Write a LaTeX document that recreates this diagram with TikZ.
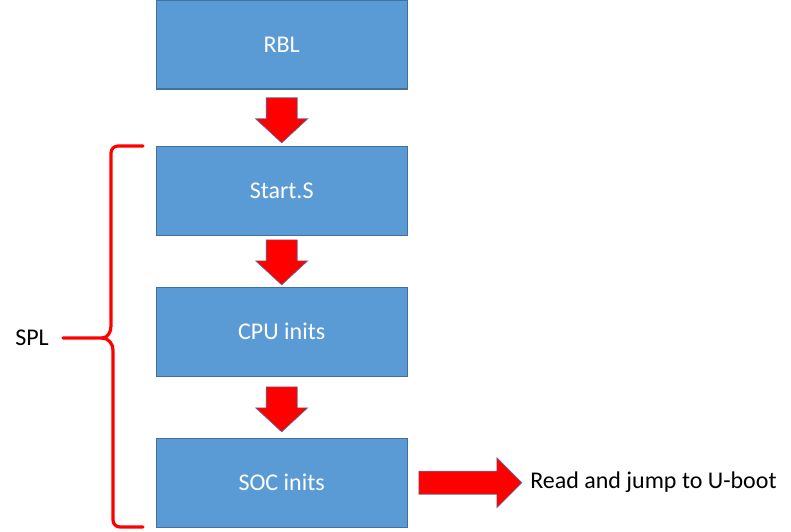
\documentclass[tikz,border=0pt]{standalone}
\usepackage{fontspec}
\setmainfont{Carlito}
\usetikzlibrary{calc}
\definecolor{boxfill}{HTML}{5B9BD5}
\definecolor{boxline}{HTML}{41719C}
\definecolor{arrline}{HTML}{5A6E96}
\tikzset{
  px/.style={x=0.75pt,y=-0.75pt},
  stagebox/.style={draw=boxline,line width=1pt,fill=boxfill,minimum width=251*0.75pt,minimum height=89*0.75pt,inner sep=0pt,text=white,font=\fontsize{18}{21}\selectfont,anchor=north west},
  blockarrow/.style={fill=red,draw=arrline,line width=0.5pt,line join=miter},
  bracestyle/.style={draw=red,line width=2.4pt,line cap=round,line join=round},
  plain/.style={font=\fontsize{18}{21}\selectfont,text=black,inner sep=0pt},
  downarr/.pic={\path[blockarrow] (-15.5,0) -- (15.5,0) -- (15.5,21) -- (26,21) -- (0,45) -- (-26,21) -- (-15.5,21) -- cycle;},
  rightarr/.pic={\path[blockarrow] (0,-11.5) -- (78,-11.5) -- (78,-25) -- (103,0) -- (78,25) -- (78,11.5) -- (0,11.5) -- cycle;}
}
\begin{document}
\begin{tikzpicture}[px]
\useasboundingbox (0,0) rectangle (791,531);
\node[stagebox] (rbl) at (155.5,-0.5) {RBL};
\node[stagebox] (start) at (155.5,145.5) {Start.S};
\node[stagebox] (cpu) at (155.5,286.5) {CPU inits};
\node[stagebox] (soc) at (155.5,437.5) {SOC inits};
\pic at ($(rbl.south)+(0,8)$) {downarr};
\pic at ($(start.south)+(0,4)$) {downarr};
\pic at ($(cpu.south)+(0,10)$) {downarr};
\pic at ($(soc.east)+(11,0)$) {rightarr};
\node[plain,anchor=west] (uboot) at (530,482) {Read and jump to U-boot};
\node[plain,anchor=west] (spl) at (15,338) {SPL};
\coordinate (bt) at (143,146);
\coordinate (bb) at (143,527);
\coordinate (bm) at (63,338);
\path[bracestyle] (bt) -- (118,146) to[out=180,in=90] (111,153) -- (111,326) to[out=-90,in=0] (102,338) -- (bm);
\path[bracestyle] (102,338) to[out=0,in=90] (113,350) -- (113,520) to[out=-90,in=180] (120,527) -- (bb);
\end{tikzpicture}
\end{document}
